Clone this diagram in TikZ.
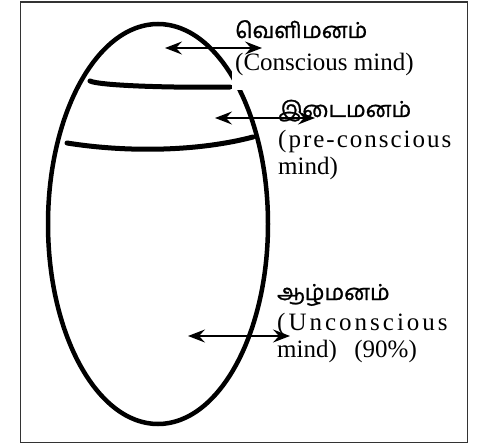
\documentclass[tikz,border=0pt]{standalone}
\usepackage{fontspec}
\setmainfont{Liberation Serif}
\newfontfamily\tamilfont[Script=Tamil,FakeBold=1.2]{Hind Madurai}
\usetikzlibrary{arrows.meta}
\tikzset{
  outline/.style={line width=4.5pt, black},
  band/.style={line width=5pt, black, line cap=round},
  dbl/.style={line width=1.2pt, black, {Stealth[length=17pt,width=13pt,inset=6pt]}-{Stealth[length=17pt,width=13pt,inset=6pt]}},
  tam/.style={anchor=base west, inner sep=0pt, font=\tamilfont\fontsize{22}{22}\selectfont},
  eng/.style={anchor=base west, inner sep=0pt, font=\fontsize{25}{25}\selectfont},
}
\begin{document}
\begin{tikzpicture}[x=1pt,y=-1pt]
\useasboundingbox (0,0) rectangle (493,444);
\node[draw=black!80, line width=1.3pt, minimum width=447pt, minimum height=440pt, inner sep=0pt, anchor=north west] (frame) at (19.5,1.5) {};
% egg
\draw[outline] (158,224) ellipse [x radius=110pt, y radius=200pt];
% bands
\draw[band] (90,81) .. controls (100,86) and (180,88) .. (230,87);
\draw[band] (67,143) .. controls (130,153) and (200,151) .. (253,137);
% white label box covering outline
\fill[white] (232,56) rectangle (330,90);
% labels
\node[tam] (t1) at (235,38) {வெளிமனம்};
\node[eng] (e1) at (235,71) {(Conscious mind)};
\node[tam] (t2) at (278,117) {இடைமனம்};
\node[eng] (e2) at (278,147) {\addfontfeature{LetterSpace=8}(pre-conscious};
\node[eng] (e3) at (278,174) {mind)};
\node[tam] (t3) at (277,300) {ஆழ்மனம்};
\node[eng] (e4) at (277,330) {\addfontfeature{LetterSpace=12}(Unconscious};
\node[eng] (e5) at (277,357) {mind)\hspace{0.45em} (90\%)};
% arrows
\coordinate (a1l) at (165,48); \coordinate (a1r) at (262,48);
\coordinate (a2l) at (215,118); \coordinate (a2r) at (315,118);
\coordinate (a3l) at (188,336); \coordinate (a3r) at (290,336);
\draw[dbl] (a1l) -- (a1r);
\draw[dbl] (a2l) -- (a2r);
\draw[dbl] (a3l) -- (a3r);
\end{tikzpicture}
\end{document}
